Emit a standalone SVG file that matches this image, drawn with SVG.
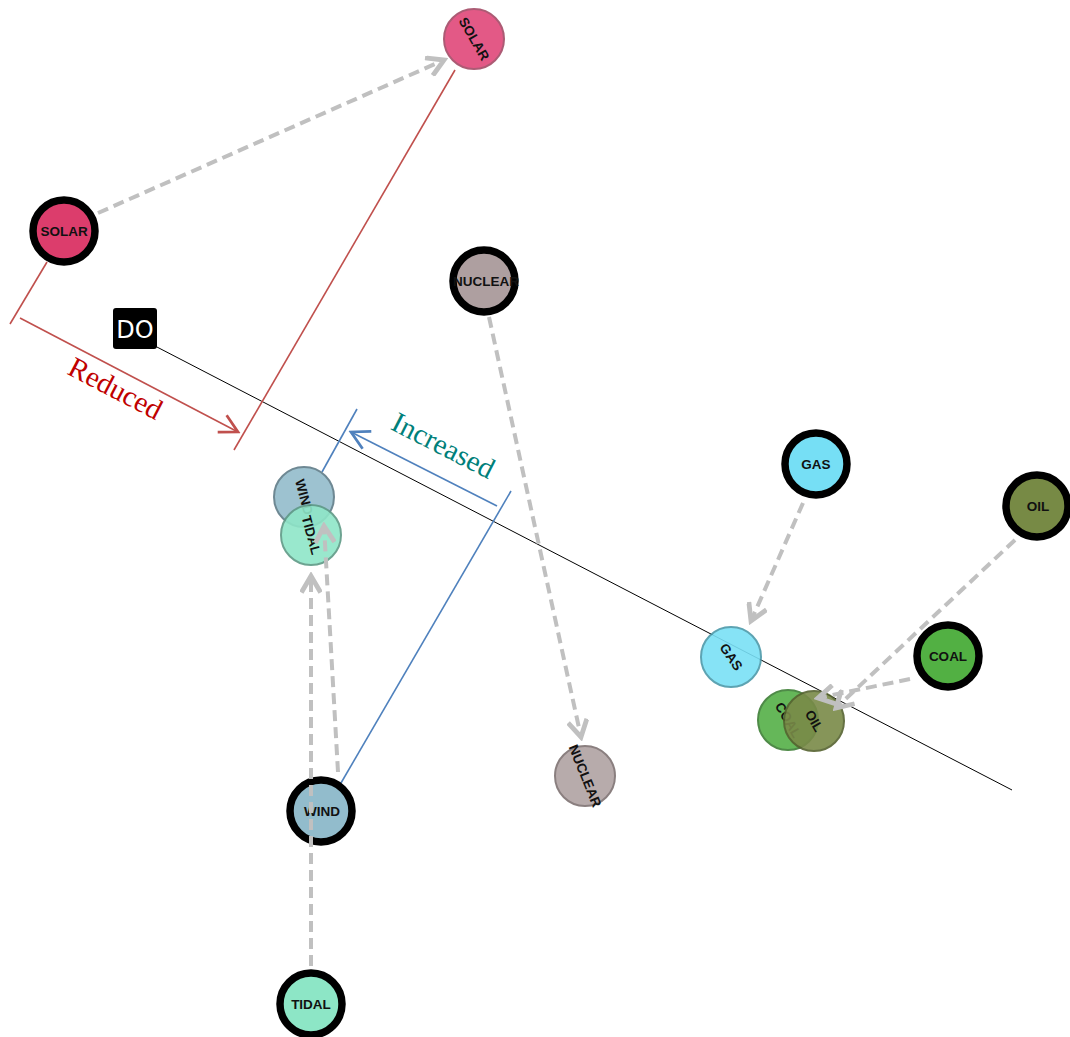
<svg xmlns="http://www.w3.org/2000/svg" width="1070" height="1037" viewBox="0 0 1070 1037">
<defs>
<marker id="ga" markerUnits="userSpaceOnUse" markerWidth="22" markerHeight="22" refX="13" refY="8" orient="auto" viewBox="0 0 16 16">
<path d="M1,1 L13,8 L1,15" fill="none" stroke="#c0c0c0" stroke-width="3.5"/>
</marker>
<marker id="ra" markerUnits="userSpaceOnUse" markerWidth="22" markerHeight="22" refX="14" refY="8" orient="auto" viewBox="0 0 16 16">
<path d="M1,1 L14,8 L1,15" fill="none" stroke="#c0504d" stroke-width="2"/>
</marker>
<marker id="ba" markerUnits="userSpaceOnUse" markerWidth="22" markerHeight="22" refX="14" refY="8" orient="auto" viewBox="0 0 16 16">
<path d="M1,1 L14,8 L1,15" fill="none" stroke="#4f81bd" stroke-width="2"/>
</marker>
</defs>
<style>
.bold circle{stroke:#000;stroke-width:7.5}
.fade circle{stroke-width:2;opacity:0.9}
.lbl{font-family:"Liberation Sans",Arial,sans-serif;font-weight:bold;font-size:13.5px;fill:#111;text-anchor:middle}
.dash{fill:none;stroke:#c0c0c0;stroke-width:4;stroke-dasharray:11,6;marker-end:url(#ga)}
.red{stroke:#c0504d;stroke-width:1.6;fill:none}
.blue{stroke:#4f81bd;stroke-width:1.6;fill:none}
.serif{font-family:"Liberation Serif","DejaVu Serif",serif;font-size:29px;text-anchor:middle}
</style>
<rect width="1070" height="1037" fill="#fff"/>

<g id="axis">
<line x1="155" y1="346" x2="1012" y2="790" stroke="#000" stroke-width="1"/>
</g>

<g id="do-label">
<rect x="113" y="308" width="44" height="41" rx="3" fill="#000"/>
<text x="135" y="338" font-family="'DejaVu Sans','Liberation Sans',sans-serif" font-size="24" fill="#fff" text-anchor="middle">DO</text>
</g>

<g id="measures">
<line class="red" x1="47" y1="262" x2="10" y2="324"/>
<line class="red" x1="455" y1="70" x2="234" y2="450"/>
<line class="red" x1="20" y1="318" x2="238" y2="432" marker-end="url(#ra)"/>
<text class="serif" fill="#c00000" transform="translate(111,397) rotate(27.6)">Reduced</text>
<line class="blue" x1="357" y1="409" x2="322" y2="472"/>
<line class="blue" x1="511" y1="491" x2="341" y2="783"/>
<line class="blue" x1="497" y1="506" x2="351" y2="432" marker-end="url(#ba)"/>
<text class="serif" fill="#00807a" transform="translate(439,454) rotate(27)">Increased</text>
</g>

<g id="faded-nodes" class="fade">
<g id="solar-new"><circle cx="474" cy="39" r="30" fill="#e0487a" stroke="#a44a66"/><text class="lbl" transform="translate(474,39) rotate(60) translate(0,4.5)">SOLAR</text></g>
<g id="nuclear-new"><circle cx="585" cy="776" r="30" fill="#b0a2a3" stroke="#7e7272"/><text class="lbl" transform="translate(585,776) rotate(68) translate(0,4.5)">NUCLEAR</text></g>
<g id="gas-new"><circle cx="731" cy="657" r="30" fill="#79e0f6" stroke="#4c9aaa"/><text class="lbl" transform="translate(731,657) rotate(55) translate(0,4.5)">GAS</text></g>
<g id="wind-new"><circle cx="304" cy="497" r="30" fill="#93bccb" stroke="#5f7c88"/><text class="lbl" transform="translate(304,497) rotate(75) translate(0,4.5)">WIND</text></g>
<g id="tidal-new"><circle cx="311" cy="535" r="30" fill="#8fe6c8" stroke="#5e9a86"/><text class="lbl" transform="translate(311,535) rotate(75) translate(0,4.5)">TIDAL</text></g>
<g id="coal-new"><circle cx="788" cy="720" r="30" fill="#55b048" stroke="#3d7e35"/><text class="lbl" transform="translate(788,720) rotate(60) translate(0,4.5)">COAL</text></g>
<g id="oil-new"><circle cx="814" cy="721" r="30" fill="#798a48" stroke="#55622f"/><text class="lbl" transform="translate(814,721) rotate(60) translate(0,4.5)">OIL</text></g>
</g>

<g id="bold-nodes" class="bold">
<g id="solar"><circle cx="64" cy="231" r="31" fill="#dc3d6c"/><text class="lbl" x="64" y="236">SOLAR</text></g>
<g id="nuclear"><circle cx="484" cy="281" r="31" fill="#ae9fa0"/><text class="lbl" x="486" y="286">NUCLEAR</text></g>
<g id="gas"><circle cx="816" cy="464" r="31" fill="#76dff5"/><text class="lbl" x="816" y="469">GAS</text></g>
<g id="oil"><circle cx="1037" cy="506" r="31" fill="#778a45"/><text class="lbl" x="1038" y="511">OIL</text></g>
<g id="coal"><circle cx="948" cy="656" r="31" fill="#52b043"/><text class="lbl" x="948" y="661">COAL</text></g>
<g id="wind"><circle cx="321" cy="811" r="31" fill="#92bccc"/><text class="lbl" x="322" y="816">WIND</text></g>
<g id="tidal"><circle cx="311" cy="1004" r="31" fill="#8de6c6"/><text class="lbl" x="311" y="1009">TIDAL</text></g>
</g>

<g id="connectors">
<line class="dash" x1="98" y1="213" x2="444" y2="60"/>
<line class="dash" x1="489" y1="317" x2="581" y2="737"/>
<line class="dash" x1="803" y1="503" x2="751" y2="621"/>
<line class="dash" x1="1015" y1="540" x2="836" y2="708"/>
<line class="dash" x1="910" y1="679" x2="818" y2="698"/>
<line class="dash" x1="311" y1="966" x2="311" y2="576"/>
<line class="dash" x1="338" y1="772" x2="324" y2="526"/>
</g>
</svg>
